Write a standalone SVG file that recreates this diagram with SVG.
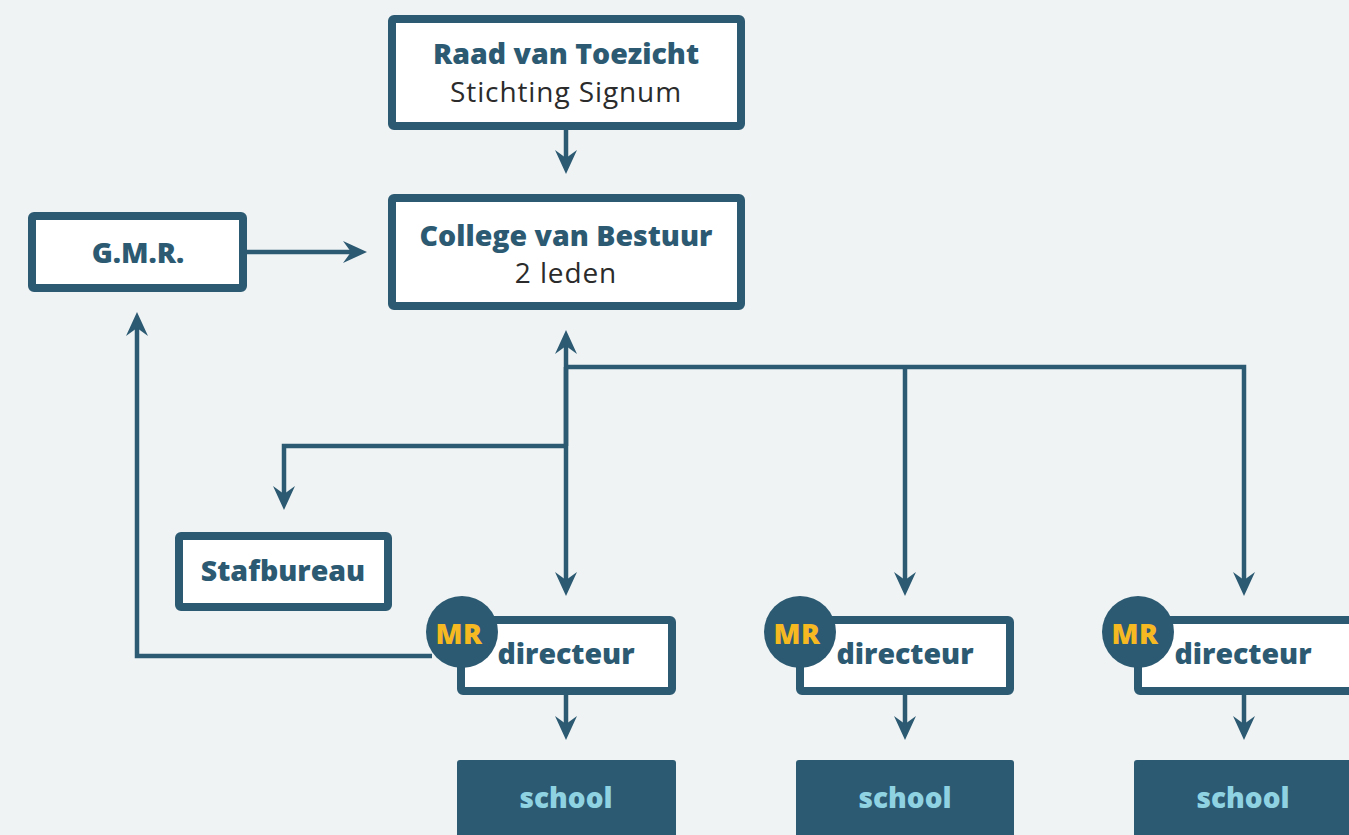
<svg xmlns="http://www.w3.org/2000/svg" width="1349" height="835" viewBox="0 0 1349 835">
<style>
.box{fill:#ffffff;stroke:#2c5a72;stroke-width:8;}
.school{fill:#2c5a72;}
.con{fill:none;stroke:#2c5a72;stroke-width:4.5;}
.t{font-family:"Open Sans","Noto Sans",sans-serif;font-size:28.5px;text-anchor:middle;}
.b{font-weight:800;fill:#2c5a72;}
.r{fill:#2b2b2b;font-weight:normal;font-size:28px;letter-spacing:0.9px;}
.mr{font-family:"Open Sans","Noto Sans",sans-serif;font-weight:800;font-size:28px;fill:#f6b922;text-anchor:middle;letter-spacing:0.5px;}
.st{font-family:"Open Sans","Noto Sans",sans-serif;font-weight:800;font-size:28px;fill:#8fd3e3;text-anchor:middle;}
</style>
<defs>
<marker id="arr" viewBox="0 0 24 22" markerWidth="24" markerHeight="22" refX="8" refY="11" orient="auto" markerUnits="userSpaceOnUse">
<path d="M0,0 L24,11 L0,22 L8,11 Z" fill="#2c5a72"/>
</marker>
</defs>
<rect width="1349" height="835" fill="#eff3f4"/>
<g id="connectors">
<path class="con" d="M566,130 V158" marker-end="url(#arr)"/>
<path class="con" d="M247,252 H351" marker-end="url(#arr)"/>
<path class="con" d="M566,446 V346" marker-end="url(#arr)"/>
<path class="con" d="M566,367 V580" marker-end="url(#arr)"/>
<path class="con" d="M566,367 H1244 V580" marker-end="url(#arr)"/>
<path class="con" d="M905,367 V580" marker-end="url(#arr)"/>
<path class="con" d="M566,446 H284 V494" marker-end="url(#arr)"/>
<path class="con" d="M432,656 H137 V328" marker-end="url(#arr)"/>
<path class="con" d="M566,695 V724" marker-end="url(#arr)"/>
<path class="con" d="M905,695 V724" marker-end="url(#arr)"/>
<path class="con" d="M1244,695 V724" marker-end="url(#arr)"/>
</g>
<g id="raad">
<rect class="box" x="392" y="19" width="349" height="107" rx="2"/>
<text class="t b" x="566" y="64">Raad van Toezicht</text>
<text class="t r" x="566" y="102">Stichting Signum</text>
</g>
<g id="college">
<rect class="box" x="392" y="198" width="349" height="108" rx="2"/>
<text class="t b" x="566" y="246">College van Bestuur</text>
<text class="t r" x="566" y="283">2 leden</text>
</g>
<g id="gmr">
<rect class="box" x="32" y="216" width="211" height="72" rx="2"/>
<text class="t b" x="138" y="263">G.M.R.</text>
</g>
<g id="stafbureau">
<rect class="box" x="179" y="536" width="209" height="71" rx="2"/>
<text class="t b" x="283" y="581">Stafbureau</text>
</g>
<g id="directeur1">
<rect class="box" x="461" y="620" width="211" height="71" rx="2"/>
<circle cx="462" cy="632" r="36" fill="#2c5a72"/>
<text class="mr" x="459" y="644">MR</text>
<text class="t b" x="566" y="664">directeur</text>
</g>
<g id="directeur2">
<rect class="box" x="800" y="620" width="210" height="71" rx="2"/>
<circle cx="800" cy="632" r="36" fill="#2c5a72"/>
<text class="mr" x="797" y="644">MR</text>
<text class="t b" x="905" y="664">directeur</text>
</g>
<g id="directeur3">
<rect class="box" x="1138" y="620" width="220" height="71" rx="2"/>
<circle cx="1138" cy="632" r="36" fill="#2c5a72"/>
<text class="mr" x="1135" y="644">MR</text>
<text class="t b" x="1243" y="664">directeur</text>
</g>
<g id="school1">
<rect class="school" x="457" y="760" width="219" height="90" rx="3"/>
<text class="st" x="566" y="808">school</text>
</g>
<g id="school2">
<rect class="school" x="796" y="760" width="218" height="90" rx="3"/>
<text class="st" x="905" y="808">school</text>
</g>
<g id="school3">
<rect class="school" x="1134" y="760" width="230" height="90" rx="3"/>
<text class="st" x="1243" y="808">school</text>
</g>
</svg>
